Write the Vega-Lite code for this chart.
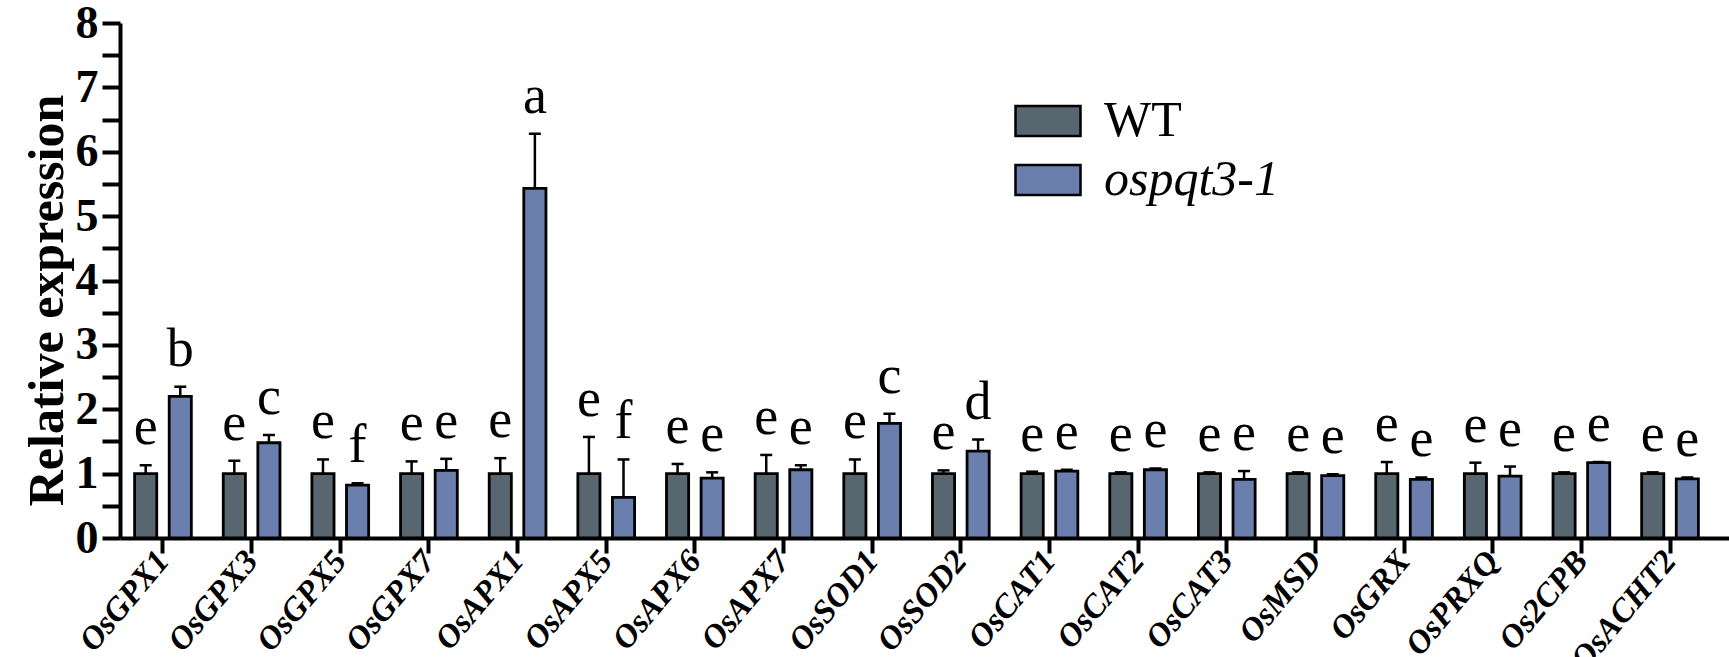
{
  "$schema": "https://vega.github.io/schema/vega-lite/v6.json",
  "width": 1609,
  "height": 515,
  "autosize": "none",
  "padding": {"left": 120, "top": 23, "right": 0, "bottom": 119},
  "background": "white",
  "config": {
    "view": {"stroke": null},
    "font": "Liberation Serif",
    "axis": {"domainColor": "black", "tickColor": "black", "labelColor": "black", "titleColor": "black", "grid": false},
    "axisY": {
      "values": [0, 1, 2, 3, 4, 5, 6, 7, 8], "format": "d",
      "labelFont": "Liberation Serif", "labelFontWeight": "bold", "labelFontSize": 46,
      "tickSize": 18, "tickWidth": 4, "domainWidth": 4, "labelPadding": 4,
      "titleFont": "Liberation Serif", "titleFontSize": 50, "titleFontWeight": "bold", "titlePadding": 3,
      "titleY": 277
    },
    "axisX": {
      "labelFont": "Liberation Serif", "labelFontWeight": "bold", "labelFontStyle": "italic", "labelFontSize": 33,
      "labelAngle": -50, "labelAlign": "right", "labelBaseline": "middle", "labelPadding": 2,
      "tickSize": 15, "tickWidth": 4, "domainWidth": 4
    }
  },
  "data": {"values": [
    {"gene": "OsGPX1", "group": "WT", "value": 1.0, "err": 1.13, "letter": "e"},
    {"gene": "OsGPX1", "group": "ospqt3-1", "value": 2.2, "err": 2.35, "letter": "b"},
    {"gene": "OsGPX3", "group": "WT", "value": 1.0, "err": 1.2, "letter": "e"},
    {"gene": "OsGPX3", "group": "ospqt3-1", "value": 1.48, "err": 1.6, "letter": "c"},
    {"gene": "OsGPX5", "group": "WT", "value": 1.0, "err": 1.22, "letter": "e"},
    {"gene": "OsGPX5", "group": "ospqt3-1", "value": 0.82, "err": 0.85, "letter": "f"},
    {"gene": "OsGPX7", "group": "WT", "value": 1.0, "err": 1.19, "letter": "e"},
    {"gene": "OsGPX7", "group": "ospqt3-1", "value": 1.05, "err": 1.23, "letter": "e"},
    {"gene": "OsAPX1", "group": "WT", "value": 1.0, "err": 1.24, "letter": "e"},
    {"gene": "OsAPX1", "group": "ospqt3-1", "value": 5.43, "err": 6.28, "letter": "a"},
    {"gene": "OsAPX5", "group": "WT", "value": 1.0, "err": 1.57, "letter": "e"},
    {"gene": "OsAPX5", "group": "ospqt3-1", "value": 0.63, "err": 1.22, "letter": "f"},
    {"gene": "OsAPX6", "group": "WT", "value": 1.0, "err": 1.15, "letter": "e"},
    {"gene": "OsAPX6", "group": "ospqt3-1", "value": 0.93, "err": 1.02, "letter": "e"},
    {"gene": "OsAPX7", "group": "WT", "value": 1.0, "err": 1.29, "letter": "e"},
    {"gene": "OsAPX7", "group": "ospqt3-1", "value": 1.06, "err": 1.13, "letter": "e"},
    {"gene": "OsSOD1", "group": "WT", "value": 1.0, "err": 1.22, "letter": "e"},
    {"gene": "OsSOD1", "group": "ospqt3-1", "value": 1.78, "err": 1.93, "letter": "c"},
    {"gene": "OsSOD2", "group": "WT", "value": 1.0, "err": 1.05, "letter": "e"},
    {"gene": "OsSOD2", "group": "ospqt3-1", "value": 1.35, "err": 1.53, "letter": "d"},
    {"gene": "OsCAT1", "group": "WT", "value": 1.0, "err": 1.03, "letter": "e"},
    {"gene": "OsCAT1", "group": "ospqt3-1", "value": 1.04, "err": 1.06, "letter": "e"},
    {"gene": "OsCAT2", "group": "WT", "value": 1.0, "err": 1.02, "letter": "e"},
    {"gene": "OsCAT2", "group": "ospqt3-1", "value": 1.06, "err": 1.08, "letter": "e"},
    {"gene": "OsCAT3", "group": "WT", "value": 1.0, "err": 1.02, "letter": "e"},
    {"gene": "OsCAT3", "group": "ospqt3-1", "value": 0.91, "err": 1.04, "letter": "e"},
    {"gene": "OsMSD", "group": "WT", "value": 1.0, "err": 1.02, "letter": "e"},
    {"gene": "OsMSD", "group": "ospqt3-1", "value": 0.97, "err": 0.99, "letter": "e"},
    {"gene": "OsGRX", "group": "WT", "value": 1.0, "err": 1.18, "letter": "e"},
    {"gene": "OsGRX", "group": "ospqt3-1", "value": 0.91, "err": 0.94, "letter": "e"},
    {"gene": "OsPRXQ", "group": "WT", "value": 1.0, "err": 1.17, "letter": "e"},
    {"gene": "OsPRXQ", "group": "ospqt3-1", "value": 0.96, "err": 1.11, "letter": "e"},
    {"gene": "Os2CPB", "group": "WT", "value": 1.0, "err": 1.02, "letter": "e"},
    {"gene": "Os2CPB", "group": "ospqt3-1", "value": 1.17, "err": 1.18, "letter": "e"},
    {"gene": "OsACHT2", "group": "WT", "value": 1.0, "err": 1.02, "letter": "e"},
    {"gene": "OsACHT2", "group": "ospqt3-1", "value": 0.92, "err": 0.94, "letter": "e"}
  ]},
  "encoding": {
    "x": {
      "field": "gene", "type": "nominal", "sort": null, "title": null,
      "scale": {"paddingInner": 0.36, "paddingOuter": 0.255, "align": 0.323}
    },
    "xOffset": {
      "field": "group", "type": "nominal", "sort": ["WT", "ospqt3-1"],
      "scale": {"paddingInner": 0.36, "paddingOuter": 0}
    }
  },
  "layer": [
    {
      "mark": {"type": "rule", "strokeWidth": 2.5, "color": "black"},
      "encoding": {
        "y": {"field": "value", "type": "quantitative", "title": "Relative expression", "scale": {"domain": [0, 8]}},
        "y2": {"field": "err"}
      }
    },
    {
      "mark": {"type": "tick", "size": 12, "thickness": 2.5, "color": "black", "opacity": 1},
      "encoding": {
        "y": {"field": "err", "type": "quantitative", "title": "Relative expression"}
      }
    },
    {
      "mark": {"type": "bar", "stroke": "black", "strokeWidth": 2.8, "opacity": 1},
      "encoding": {
        "y": {"field": "value", "type": "quantitative", "title": "Relative expression"},
        "color": {
          "field": "group", "type": "nominal", "sort": ["WT", "ospqt3-1"],
          "scale": {"domain": ["WT", "ospqt3-1"], "range": ["#58676f", "#6a7fad"]},
          "legend": {
            "orient": "none", "legendX": 894, "legendY": 64, "title": null,
            "symbolType": "M-1,-0.46H1V0.46H-1Z", "symbolSize": 4225,
            "symbolStrokeColor": "black", "symbolStrokeWidth": 2.5, "symbolOpacity": 1,
            "labelFont": "Liberation Serif", "labelFontSize": 50, "labelOffset": 22, "labelColor": "black",
            "labelLimit": 0, "rowPadding": 0,
            "encode": {"labels": {"update": {"fontStyle": {"signal": "datum.value === 'ospqt3-1' ? 'italic' : 'normal'"}}}}
          }
        }
      }
    },
    {
      "mark": {"type": "text", "dy": -21, "baseline": "alphabetic", "fontSize": 54, "font": "Liberation Serif", "color": "black"},
      "encoding": {
        "y": {"field": "err", "type": "quantitative", "title": "Relative expression"},
        "text": {"field": "letter"}
      }
    }
  ]
}
